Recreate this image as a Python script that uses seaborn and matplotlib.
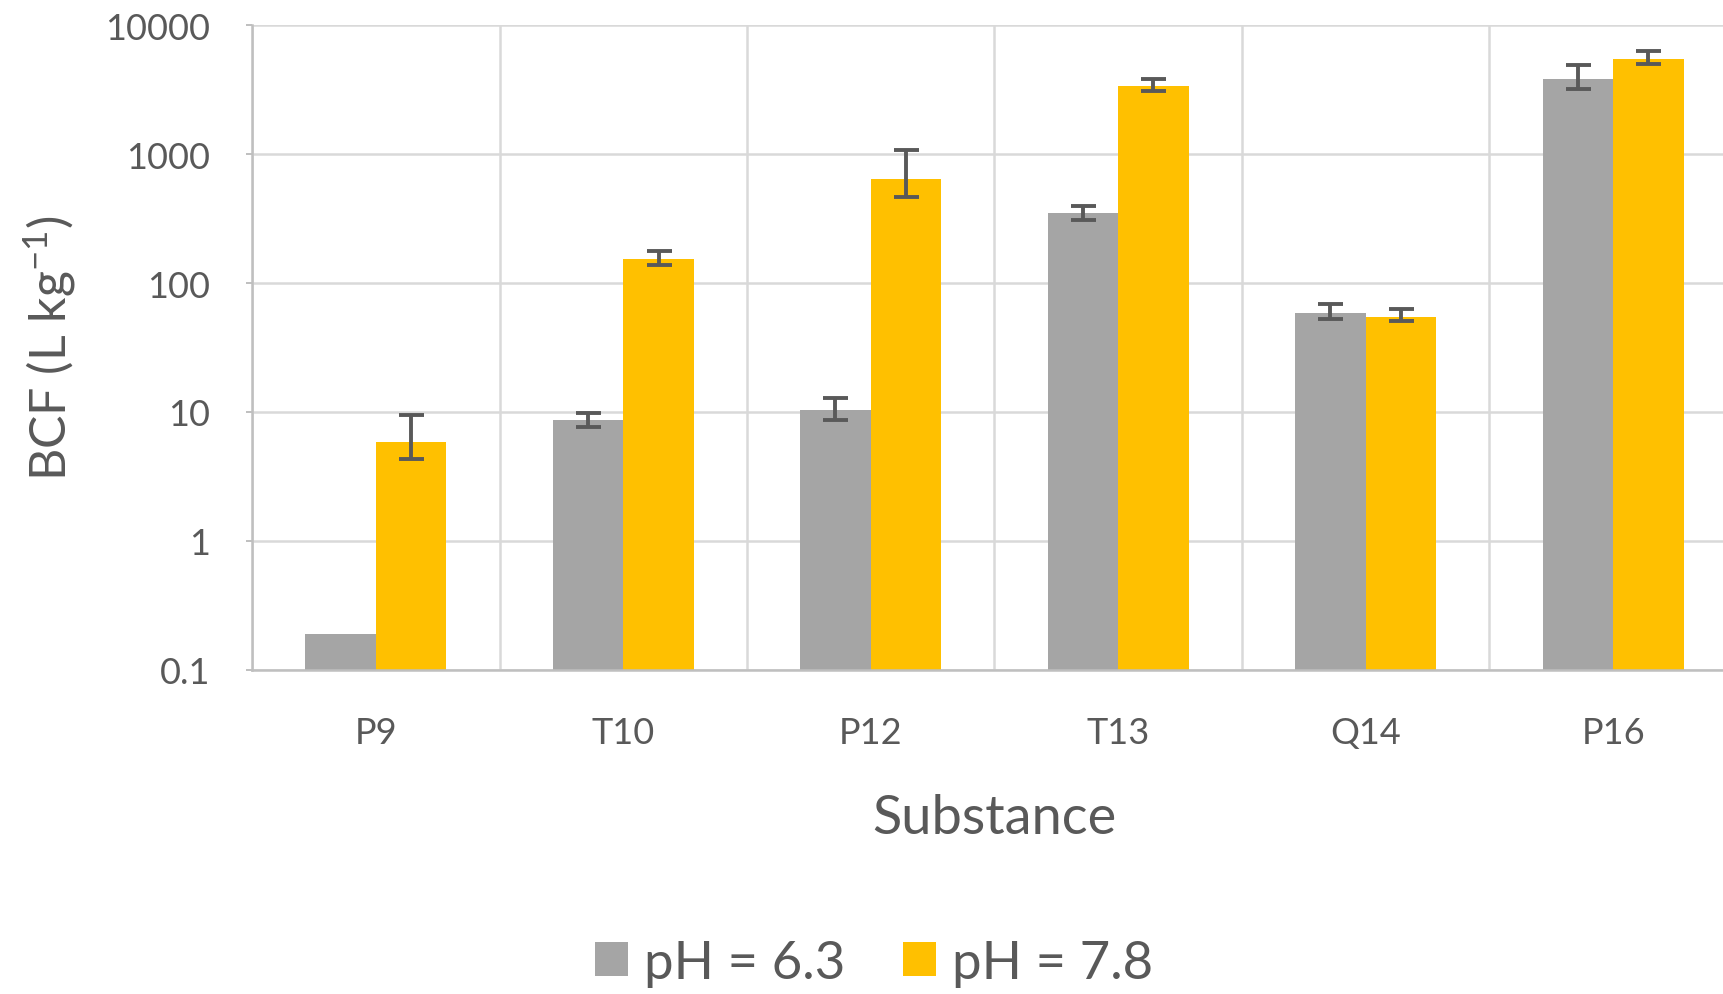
import numpy as np
import pandas as pd
import matplotlib
matplotlib.use("Agg")
import matplotlib.pyplot as plt
import seaborn as sns

substances = ["P9", "T10", "P12", "T13", "Q14", "P16"]
ph_levels = ["pH = 6.3", "pH = 7.8"]

# BCF values and error bar ends (L/kg)
bcf_ph63 = [0.19, 8.7, 10.3, 348, 59, 3870]
low_ph63 = [np.nan, 7.6, 8.6, 310, 53, 3200]
high_ph63 = [np.nan, 9.9, 12.8, 400, 69, 4900]

bcf_ph78 = [5.8, 155, 640, 3400, 54.5, 5470]
low_ph78 = [4.3, 138, 467, 3080, 51, 5000]
high_ph78 = [9.5, 178, 1085, 3815, 63, 6340]

GREY = "#a5a5a5"
GOLD = "#ffc000"
TEXT = "#595959"


def build_frame():
    df = pd.DataFrame({
        "Substance": substances * 2,
        "pH": [ph_levels[0]] * len(substances) + [ph_levels[1]] * len(substances),
        "BCF": bcf_ph63 + bcf_ph78,
        "low": low_ph63 + low_ph78,
        "high": high_ph63 + high_ph78,
    })
    return df


def main():
    sns.set_style("white")
    plt.rcParams["font.family"] = ["Lato", "DejaVu Sans"]
    plt.rcParams["mathtext.default"] = "regular"

    df = build_frame()

    fig = plt.figure(figsize=(17.24, 9.95), dpi=100)
    ax = fig.add_axes([0.1462, 0.3259, 0.8613, 0.6476])

    sns.barplot(
        data=df, x="Substance", y="BCF", hue="pH", order=substances,
        hue_order=ph_levels, palette=[GREY, GOLD], width=0.57,
        saturation=1, linewidth=0, errorbar=None, ax=ax,
    )
    ax.set_yscale("log")
    ax.set_ylim(0.1, 10000)
    ax.set_xlim(-0.5, 5.5)

    # error bars placed on the bar centres seaborn produced
    for container, level in zip(ax.containers, ph_levels):
        sub = df[df["pH"] == level].set_index("Substance").loc[substances]
        xs = [p.get_x() + p.get_width() / 2 for p in container.patches]
        for x, (_, row) in zip(xs, sub.iterrows()):
            if np.isnan(row["low"]):
                continue
            ax.errorbar(
                x, row["BCF"],
                yerr=[[row["BCF"] - row["low"]], [row["high"] - row["BCF"]]],
                fmt="none", ecolor=TEXT, elinewidth=2.8, capsize=9,
                capthick=2.8, zorder=5,
            )

    yt = [0.1, 1, 10, 100, 1000, 10000]
    ax.set_yticks(yt)
    ax.set_yticklabels(["0.1", "1", "10", "100", "1000", "10000"])
    ax.yaxis.set_minor_locator(matplotlib.ticker.NullLocator())
    ax.set_xticks(np.arange(-0.5, 6, 1), minor=True)

    ax.set_axisbelow(True)
    ax.grid(True, which="major", axis="y", color="#d9d9d9", linewidth=1.8)
    ax.grid(True, which="minor", axis="x", color="#d9d9d9", linewidth=1.8)
    ax.grid(False, which="major", axis="x")

    for s in ["top", "right"]:
        ax.spines[s].set_visible(False)
    for s in ["left", "bottom"]:
        ax.spines[s].set_color("#bfbfbf")
        ax.spines[s].set_linewidth(1.8)

    ax.tick_params(axis="y", which="major", length=4, width=1.4, color="#bfbfbf",
                   labelsize=26, labelcolor=TEXT, pad=26, left=True)
    ax.tick_params(axis="x", which="both", length=0, labelsize=26,
                   labelcolor=TEXT, pad=33)

    ax.set_xlabel("Substance", fontsize=39, color=TEXT, labelpad=32)
    ax.set_ylabel("BCF (L kg$^{-1}$)", fontsize=36, color=TEXT, labelpad=20)

    handles, labels = ax.get_legend_handles_labels()
    ax.legend_.remove()
    fig.legend(
        handles, labels, loc="center", bbox_to_anchor=(0.507, 0.031),
        ncol=2, frameon=False, fontsize=38, labelcolor=TEXT,
        handlelength=0.62, handleheight=0.62, handletextpad=0.3,
        columnspacing=1.1,
    )

    fig.savefig("out.png", dpi=100)


if __name__ == "__main__":
    main()
